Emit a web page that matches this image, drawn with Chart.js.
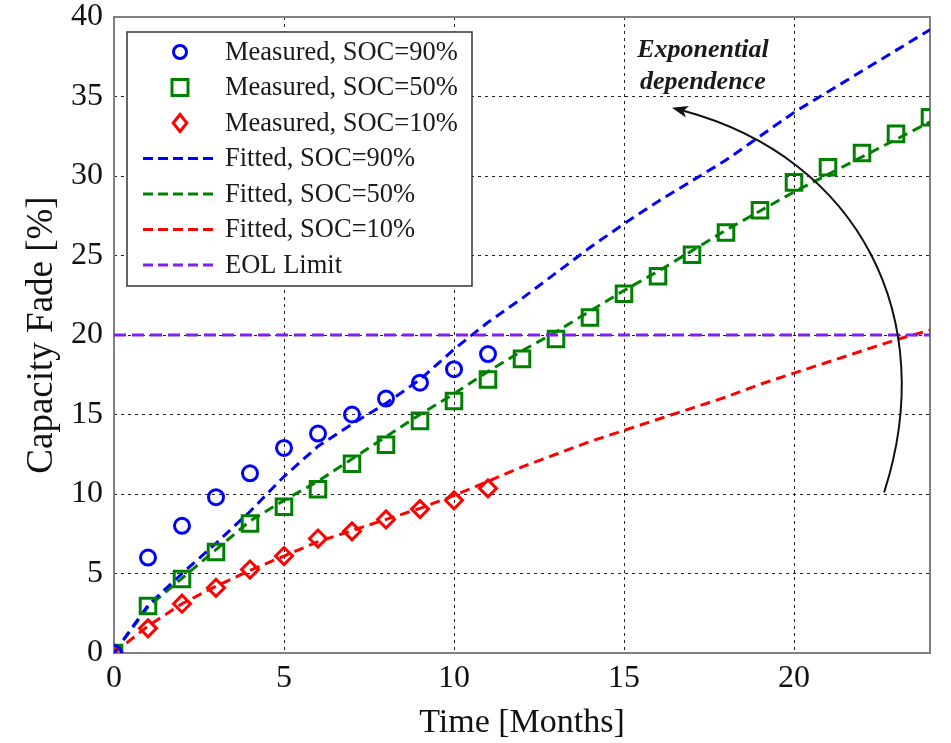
<!DOCTYPE html>
<html>
<head>
<meta charset="utf-8">
<script src="https://cdn.jsdelivr.net/npm/chart.js@4"></script>
<style>
  html, body { margin: 0; padding: 0; background: #ffffff; }
  canvas { display: block; }
</style>
</head>
<body>
<canvas id="fade" width="951" height="743"></canvas>
<script>
// Months on the time axis
const monthsMeasuredShort = [0, 1, 2, 3, 4, 5, 6, 7, 8, 9, 10, 11];
const monthsFull = [0, 1, 2, 3, 4, 5, 6, 7, 8, 9, 10, 11, 12, 13, 14, 15, 16, 17, 18, 19, 20, 21, 22, 23, 24];

// Measured capacity fade [%]
const measured90 = [0, 6.0, 8.0, 9.8, 11.3, 12.9, 13.8, 15.0, 16.0, 17.0, 17.85, 18.8];
const measured50 = [0, 2.95, 4.65, 6.35, 8.15, 9.2, 10.3, 11.9, 13.1, 14.6, 15.85, 17.2, 18.5, 19.75, 21.1, 22.6, 23.7, 25.05, 26.45, 27.85, 29.6, 30.55, 31.45, 32.65, 33.7];
const measured10 = [0, 1.55, 3.1, 4.1, 5.25, 6.1, 7.2, 7.65, 8.4, 9.05, 9.6, 10.35];

// Fitted model curves [%]
const fitted90 = [0, 3.0, 5.0, 6.9, 8.9, 11.1, 13.0, 14.4, 15.7, 17.2, 19.1, 20.8, 22.3, 23.9, 25.5, 27.0, 28.4, 29.7, 31.0, 32.5, 34.0, 35.3, 36.6, 37.9, 39.2];
const fitted50 = [0, 2.9, 4.7, 6.5, 8.3, 9.6, 10.8, 12.2, 13.6, 15.0, 16.3, 17.7, 19.0, 20.2, 21.5, 22.8, 24.0, 25.3, 26.6, 27.8, 29.0, 30.1, 31.2, 32.3, 33.4];
const fitted10 = [0, 1.7, 3.1, 4.2, 5.2, 6.1, 7.0, 7.7, 8.4, 9.1, 9.9, 10.8, 11.7, 12.5, 13.3, 14.0, 14.7, 15.4, 16.1, 16.9, 17.6, 18.3, 19.0, 19.7, 20.3];

// End-of-life threshold [%]
const eolLimit = 20;

// Axis ticks
const xTickValues = [0, 5, 10, 15, 20];
const yTickValues = [0, 5, 10, 15, 20, 25, 30, 35, 40];

// Annotation: curved arrow (data coordinates) and its caption
const arrowFrom = [22.65, 10.1];
const arrowCtrl1 = [24.3, 21.0];
const arrowCtrl2 = [21.94, 31.1];
const arrowTo = [16.41, 34.3];
const captionLines = ['Exponential', 'dependence'];
const captionAnchor = [17.32, 37.9];
const captionStep = 2.02;

const pairs = (xs, ys) => ys.map((y, i) => ({ x: xs[i], y: y }));

const SERIF = '"Liberation Serif", "Times New Roman", serif';

const datasets = [
  {
    label: 'Measured, SOC=90%',
    data: pairs(monthsMeasuredShort, measured90),
    showLine: false,
    pointStyle: 'circle',
    pointRadius: 7.5,
    pointBorderWidth: 3,
    borderColor: '#0000ff',
    backgroundColor: 'rgba(0,0,0,0)',
    order: 1
  },
  {
    label: 'Measured, SOC=50%',
    data: pairs(monthsFull, measured50),
    showLine: false,
    pointStyle: 'rect',
    pointRadius: 11,
    pointBorderWidth: 3,
    borderColor: '#008000',
    backgroundColor: 'rgba(0,0,0,0)',
    order: 1
  },
  {
    label: 'Measured, SOC=10%',
    data: pairs(monthsMeasuredShort, measured10),
    showLine: false,
    pointStyle: 'rectRot',
    pointRadius: 8.5,
    pointBorderWidth: 3,
    borderColor: '#ff0000',
    backgroundColor: 'rgba(0,0,0,0)',
    order: 1
  },
  {
    label: 'Fitted, SOC=90%',
    data: pairs(monthsFull, fitted90),
    showLine: true,
    pointRadius: 0,
    borderWidth: 3,
    borderDash: [10, 6],
    borderColor: '#0000ff',
    tension: 0,
    order: 2
  },
  {
    label: 'Fitted, SOC=50%',
    data: pairs(monthsFull, fitted50),
    showLine: true,
    pointRadius: 0,
    borderWidth: 3,
    borderDash: [10, 6],
    borderColor: '#008000',
    tension: 0,
    order: 2
  },
  {
    label: 'Fitted, SOC=10%',
    data: pairs(monthsFull, fitted10),
    showLine: true,
    pointRadius: 0,
    borderWidth: 3,
    borderDash: [10, 6],
    borderColor: '#ff0000',
    tension: 0,
    order: 2
  },
  {
    label: 'EOL Limit',
    data: [{ x: monthsFull[0], y: eolLimit }, { x: monthsFull[monthsFull.length - 1], y: eolLimit }],
    showLine: true,
    pointRadius: 0,
    borderWidth: 3,
    borderDash: [12, 6],
    borderColor: '#8020f0',
    order: 0
  }
];

// Box frame, curved arrow with caption, and framed legend inside the plot
const decorations = {
  id: 'decorations',
  beforeDatasetsDraw(chart) {
    const { ctx, chartArea: a } = chart;
    ctx.save();
    ctx.strokeStyle = '#808080';
    ctx.lineWidth = 2;
    ctx.strokeRect(a.left, a.top, a.right - a.left, a.bottom - a.top);
    ctx.restore();
  },
  afterDatasetsDraw(chart) {
    const { ctx, chartArea: a, scales } = chart;
    const X = v => scales.x.getPixelForValue(v);
    const Y = v => scales.y.getPixelForValue(v);

    // curved arrow
    ctx.save();
    const p0 = [X(arrowFrom[0]), Y(arrowFrom[1])];
    const p1 = [X(arrowCtrl1[0]), Y(arrowCtrl1[1])];
    const p2 = [X(arrowCtrl2[0]), Y(arrowCtrl2[1])];
    const p3 = [X(arrowTo[0]), Y(arrowTo[1])];
    const dx = p3[0] - p2[0], dy = p3[1] - p2[1];
    const len = Math.hypot(dx, dy);
    const ux = dx / len, uy = dy / len;
    const headLen = 16, headHalf = 6;
    const base = [p3[0] - ux * headLen, p3[1] - uy * headLen];
    ctx.strokeStyle = '#111111';
    ctx.lineWidth = 2;
    ctx.beginPath();
    ctx.moveTo(p0[0], p0[1]);
    ctx.bezierCurveTo(p1[0], p1[1], p2[0], p2[1], base[0] + ux * 4, base[1] + uy * 4);
    ctx.stroke();
    ctx.fillStyle = '#111111';
    ctx.beginPath();
    ctx.moveTo(p3[0], p3[1]);
    ctx.lineTo(base[0] - uy * headHalf, base[1] + ux * headHalf);
    ctx.lineTo(base[0] + ux * 4, base[1] + uy * 4);
    ctx.lineTo(base[0] + uy * headHalf, base[1] - ux * headHalf);
    ctx.closePath();
    ctx.fill();

    // caption
    ctx.fillStyle = '#1a1a1a';
    ctx.font = 'italic bold 26px ' + SERIF;
    ctx.textAlign = 'center';
    ctx.textBaseline = 'middle';
    captionLines.forEach((t, i) => {
      ctx.fillText(t, X(captionAnchor[0]), Y(captionAnchor[1] - i * captionStep));
    });
    ctx.restore();

    // legend
    const lx = a.left + 13, ly = a.top + 15, lw = 345, lh = 254;
    const rowH = 35.5, firstRow = ly + 20;
    const markX = lx + 53, lineX0 = lx + 16, lineX1 = lx + 86, textX = lx + 98;
    ctx.save();
    ctx.fillStyle = '#ffffff';
    ctx.fillRect(lx, ly, lw, lh);
    ctx.strokeStyle = '#333333';
    ctx.lineWidth = 1.5;
    ctx.strokeRect(lx, ly, lw, lh);
    chart.data.datasets.forEach((ds, i) => {
      const cy = firstRow + i * rowH;
      ctx.save();
      ctx.strokeStyle = ds.borderColor;
      if (ds.showLine) {
        ctx.lineWidth = ds.borderWidth;
        ctx.setLineDash([10, 5]);
        ctx.beginPath();
        ctx.moveTo(lineX0, cy);
        ctx.lineTo(lineX1, cy);
        ctx.stroke();
      } else {
        ctx.lineWidth = ds.pointBorderWidth;
        ctx.beginPath();
        if (ds.pointStyle === 'circle') {
          ctx.arc(markX, cy, 6.5, 0, Math.PI * 2);
        } else if (ds.pointStyle === 'rect') {
          ctx.rect(markX - 8, cy - 8, 16, 16);
        } else {
          const r = 8.5;
          ctx.moveTo(markX, cy - r); ctx.lineTo(markX + r * 0.8, cy);
          ctx.lineTo(markX, cy + r); ctx.lineTo(markX - r * 0.8, cy); ctx.closePath();
        }
        ctx.stroke();
      }
      ctx.restore();
      ctx.fillStyle = '#1a1a1a';
      ctx.font = '26.5px ' + SERIF;
      ctx.textAlign = 'left';
      ctx.textBaseline = 'middle';
      ctx.fillText(ds.label, textX, cy + 1);
    });
    ctx.restore();
  }
};

new Chart(document.getElementById('fade'), {
  type: 'scatter',
  data: { datasets: datasets },
  options: {
    responsive: false,
    animation: false,
    devicePixelRatio: 1,
    layout: { padding: { top: 17, right: 21, left: 0, bottom: 0 } },
    plugins: { legend: { display: false }, tooltip: { enabled: false } },
    scales: {
      x: {
        type: 'linear',
        min: 0,
        max: 24,
        afterBuildTicks: s => { s.ticks = xTickValues.map(v => ({ value: v })); },
        afterFit: s => { s.height = 90; s.paddingLeft = 0; s.paddingRight = 0; },
        border: { display: false, dash: [3, 4] },
        grid: { color: '#222222', lineWidth: 1, drawTicks: false },
        ticks: {
          color: '#111111',
          font: { family: SERIF, size: 32 },
          padding: 6,
          maxRotation: 0
        },
        title: {
          display: true,
          text: 'Time [Months]',
          color: '#111111',
          font: { family: SERIF, size: 34 },
          padding: { top: 3, bottom: 0 }
        }
      },
      y: {
        type: 'linear',
        min: 0,
        max: 40,
        afterBuildTicks: s => { s.ticks = yTickValues.map(v => ({ value: v })); },
        afterFit: s => { s.width = 114; s.paddingTop = 0; s.paddingBottom = 0; },
        border: { display: false, dash: [3, 4] },
        grid: { color: '#222222', lineWidth: 1, drawTicks: false },
        ticks: {
          color: '#111111',
          font: { family: SERIF, size: 32 },
          padding: 11
        },
        title: {
          display: true,
          text: 'Capacity Fade [%]',
          color: '#111111',
          font: { family: SERIF, size: 37 },
          padding: { top: 20, bottom: 0 }
        }
      }
    }
  },
  plugins: [decorations]
});
</script>
</body>
</html>
